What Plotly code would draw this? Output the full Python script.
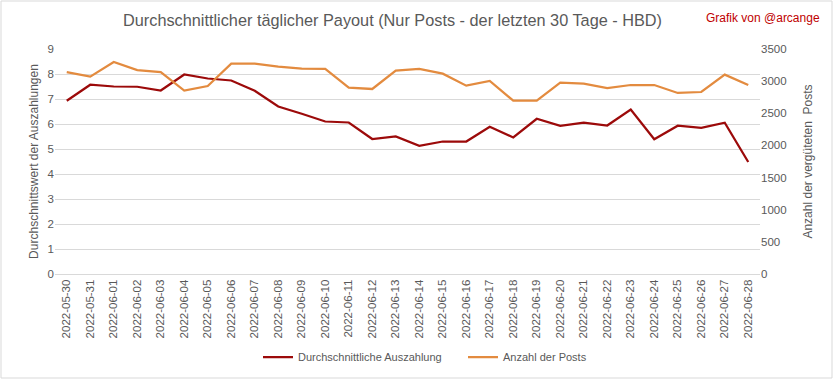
import plotly.graph_objects as go

dates = ["2022-05-30", "2022-05-31", "2022-06-01", "2022-06-02", "2022-06-03", "2022-06-04",
         "2022-06-05", "2022-06-06", "2022-06-07", "2022-06-08", "2022-06-09", "2022-06-10",
         "2022-06-11", "2022-06-12", "2022-06-13", "2022-06-14", "2022-06-15", "2022-06-16",
         "2022-06-17", "2022-06-18", "2022-06-19", "2022-06-20", "2022-06-21", "2022-06-22",
         "2022-06-23", "2022-06-24", "2022-06-25", "2022-06-26", "2022-06-27", "2022-06-28"]

payout = [6.93, 7.57, 7.50, 7.49, 7.34, 7.98, 7.82, 7.74, 7.33, 6.70, 6.41, 6.10,
          6.06, 5.40, 5.50, 5.13, 5.30, 5.30, 5.89, 5.46, 6.21, 5.93, 6.05, 5.94,
          6.58, 5.39, 5.93, 5.85, 6.05, 4.48]

posts = [3140, 3070, 3298, 3173, 3140, 2852, 2924, 3272, 3272, 3225, 3194, 3189,
         2898, 2878, 3163, 3189, 3116, 2930, 3002, 2696, 2696, 2976, 2960, 2893,
         2940, 2940, 2816, 2831, 3101, 2940]

title_text = "Durchschnittlicher täglicher Payout (Nur Posts - der letzten 30 Tage - HBD)"
credit_text = "Grafik von @arcange"
y1_title = "Durchschnittswert der Auszahlungen"
y2_title = "Anzahl der vergüteten  Posts"
name1 = "Durchschnittliche Auszahlung"
name2 = "Anzahl der Posts"

RED = "#9C0A0A"
ORANGE = "#E38B3F"
GRAY = "#595959"
GRID = "#D9D9D9"
FONT = "Liberation Sans"

fig = go.Figure()
fig.add_trace(go.Scatter(x=dates, y=payout, name=name1, mode="lines",
                         line=dict(color=RED, width=2.25), yaxis="y"))
fig.add_trace(go.Scatter(x=dates, y=posts, name=name2, mode="lines",
                         line=dict(color=ORANGE, width=2.25), yaxis="y2"))

L, R, T, B = 55, 73, 49, 105
W, H = 833, 379
pw, ph = W - L - R, H - T - B

fig.update_layout(
    width=W, height=H,
    margin=dict(l=L, r=R, t=T, b=B, autoexpand=False),
    paper_bgcolor="white", plot_bgcolor="white",
    font=dict(family=FONT, color=GRAY, size=11),
    showlegend=True,
    legend=dict(orientation="h", x=(266 - 8 - L) / pw, xanchor="left",
                y=-(357 - (H - B)) / ph, yanchor="middle",
                font=dict(size=11, color=GRAY), itemwidth=30,
                entrywidth=160, entrywidthmode="pixels",
                traceorder="normal"),
    xaxis=dict(type="category", range=[-0.5, 29.5], tickangle=-90, automargin=False,
               showgrid=False, showline=True, linecolor=GRID, linewidth=1,
               ticks="", tickfont=dict(size=11.5, color=GRAY), zeroline=False),
    yaxis=dict(range=[0, 9], dtick=1, showgrid=True, gridcolor=GRID, gridwidth=1,
               zeroline=False, showline=False, ticks="", automargin=False,
               title=dict(text=y1_title, font=dict(size=12, color=GRAY), standoff=6),
               tickfont=dict(size=11.5, color=GRAY)),
    yaxis2=dict(range=[0, 3500], dtick=500, overlaying="y", side="right",
                showgrid=False, zeroline=False, showline=False, ticks="", automargin=False,
                title=dict(text=y2_title, font=dict(size=12, color=GRAY), standoff=18),
                tickfont=dict(size=11.5, color=GRAY)),
    annotations=[
        dict(text=title_text, xref="paper", yref="paper",
             x=(392 - L) / pw, y=1 + (T - 20) / ph, xanchor="center", yanchor="middle",
             showarrow=False, font=dict(size=16.3, color=GRAY, family=FONT)),
        dict(text=credit_text, xref="paper", yref="paper",
             x=(822 - L) / pw, y=1 + (T - 18) / ph, xanchor="right", yanchor="middle",
             showarrow=False, font=dict(size=12, color="#C00000", family=FONT)),
    ],
    shapes=[
        dict(type="rect", xref="paper", yref="paper",
             x0=-(L - 1) / pw, x1=1 + (R - 1) / pw,
             y0=-(B - 1) / ph, y1=1 + (T - 1) / ph,
             line=dict(color=GRID, width=1), fillcolor="rgba(0,0,0,0)", layer="below"),
    ],
)

fig.write_html("out.html", config={"displayModeBar": False},
               post_script="document.body.style.margin='0';document.body.style.overflow='hidden';")
